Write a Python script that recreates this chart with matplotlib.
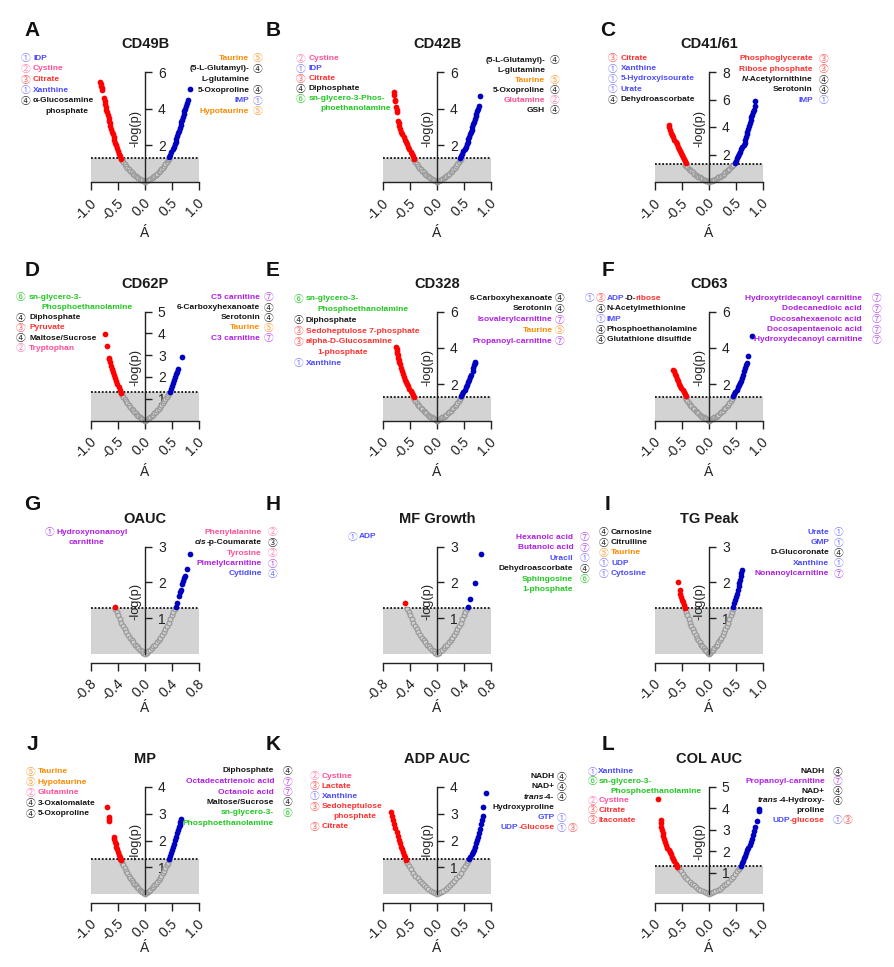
import matplotlib
matplotlib.use("Agg")
import matplotlib.pyplot as plt

plt.rcParams['font.family'] = ['Liberation Sans', 'Noto Sans CJK SC', 'DejaVu Sans']

# === data: (rho, -log p) for significant metabolites
red_A = [(-0.44, 1.23), (-0.46, 1.4), (-0.48, 1.55), (-0.50, 1.7), (-0.52, 1.85), (-0.54, 2.0), (-0.555, 2.15),
         (-0.57, 2.3), (-0.58, 2.45), (-0.595, 2.6), (-0.61, 2.75), (-0.625, 2.9), (-0.64, 3.05), (-0.65, 3.2),
         (-0.66, 3.35), (-0.675, 3.5), (-0.69, 3.65), (-0.70, 3.8), (-0.715, 3.95), (-0.725, 4.1), (-0.735, 4.25),
         (-0.745, 4.4), (-0.76, 4.6), (-0.79, 5.0), (-0.80, 5.12), (-0.81, 5.25), (-0.82, 5.37), (-0.83, 5.47)]
blue_A = [(0.45, 1.36), (0.47, 1.5), (0.49, 1.65), (0.51, 1.78), (0.53, 1.92), (0.55, 2.05), (0.565, 2.2),
          (0.58, 2.35), (0.595, 2.5), (0.61, 2.65), (0.63, 2.8), (0.65, 2.95), (0.66, 3.1), (0.675, 3.25),
          (0.69, 3.4), (0.70, 3.55), (0.715, 3.7), (0.73, 3.85), (0.745, 4.0), (0.76, 4.15), (0.775, 4.3),
          (0.80, 4.47), (0.83, 5.05)]
red_B = [(-0.43, 1.26), (-0.45, 1.4), (-0.47, 1.52), (-0.49, 1.64), (-0.52, 1.78), (-0.54, 1.92), (-0.56, 2.05),
         (-0.58, 2.18), (-0.60, 2.31), (-0.62, 2.45), (-0.64, 2.6), (-0.66, 2.75), (-0.68, 2.9), (-0.70, 3.05),
         (-0.71, 3.2), (-0.72, 3.35), (-0.74, 3.8), (-0.75, 3.95), (-0.76, 4.08), (-0.77, 4.4), (-0.78, 4.5),
         (-0.79, 4.75), (-0.80, 4.9)]
blue_B = [(0.43, 1.31), (0.45, 1.42), (0.47, 1.55), (0.49, 1.67), (0.51, 1.8), (0.53, 1.93), (0.55, 2.06),
          (0.565, 2.2), (0.58, 2.33), (0.595, 2.46), (0.61, 2.6), (0.625, 2.73), (0.64, 2.86), (0.655, 3.0),
          (0.67, 3.15), (0.685, 3.3), (0.70, 3.45), (0.715, 3.6), (0.73, 3.72), (0.745, 3.85), (0.76, 4.0),
          (0.77, 4.13), (0.80, 4.68)]
red_C = [(-0.42, 1.36), (-0.44, 1.5), (-0.46, 1.66), (-0.48, 1.82), (-0.50, 1.98), (-0.52, 2.13), (-0.54, 2.28),
         (-0.56, 2.43), (-0.58, 2.58), (-0.60, 2.73), (-0.62, 2.9), (-0.64, 3.07), (-0.66, 3.24), (-0.68, 3.42),
         (-0.70, 3.6), (-0.72, 3.8), (-0.74, 4.0), (-0.75, 4.16)]
blue_C = [(0.48, 1.41), (0.50, 1.56), (0.52, 1.72), (0.54, 1.88), (0.56, 2.04), (0.58, 2.2), (0.60, 2.37),
          (0.62, 2.54), (0.64, 2.7), (0.66, 2.86), (0.675, 3.06), (0.69, 3.26), (0.70, 3.46), (0.71, 3.66),
          (0.725, 3.87), (0.74, 4.1), (0.755, 4.3), (0.77, 4.5), (0.785, 4.7), (0.80, 4.9), (0.815, 5.08),
          (0.83, 5.27), (0.845, 5.5), (0.86, 5.9)]
red_D = [(-0.45, 1.24), (-0.47, 1.38), (-0.49, 1.52), (-0.51, 1.66), (-0.53, 1.8), (-0.55, 1.94), (-0.57, 2.08),
         (-0.59, 2.22), (-0.61, 2.37), (-0.63, 2.52), (-0.65, 2.68), (-0.66, 2.8), (-0.67, 2.88), (-0.71, 3.41),
         (-0.74, 3.97)]
blue_D = [(0.46, 1.31), (0.48, 1.44), (0.50, 1.58), (0.52, 1.72), (0.54, 1.86), (0.56, 2.0), (0.58, 2.12),
          (0.60, 2.24), (0.62, 2.36), (0.68, 2.93)]
red_E = [(-0.43, 1.3), (-0.45, 1.41), (-0.47, 1.52), (-0.49, 1.64), (-0.51, 1.76), (-0.53, 1.88), (-0.55, 2.0),
         (-0.57, 2.12), (-0.59, 2.25), (-0.61, 2.4), (-0.63, 2.56), (-0.65, 2.73), (-0.67, 2.91), (-0.69, 3.11),
         (-0.70, 3.22), (-0.71, 3.33), (-0.72, 3.46), (-0.73, 3.6), (-0.74, 3.72), (-0.745, 3.85), (-0.75, 3.95),
         (-0.755, 4.03)]
blue_E = [(0.45, 1.34), (0.47, 1.46), (0.49, 1.58), (0.51, 1.7), (0.53, 1.83), (0.55, 1.96), (0.57, 2.1),
          (0.59, 2.24), (0.61, 2.38), (0.63, 2.5), (0.66, 2.75), (0.675, 2.9), (0.69, 3.05), (0.70, 3.15),
          (0.71, 3.24)]
red_F = [(-0.43, 1.34), (-0.45, 1.45), (-0.47, 1.56), (-0.49, 1.67), (-0.51, 1.79), (-0.53, 1.91), (-0.55, 2.03),
         (-0.57, 2.16), (-0.59, 2.3), (-0.61, 2.44), (-0.63, 2.58), (-0.65, 2.7), (-0.67, 2.8)]
blue_F = [(0.45, 1.34), (0.47, 1.46), (0.49, 1.58), (0.51, 1.7), (0.53, 1.82), (0.55, 1.94), (0.57, 2.06),
          (0.59, 2.2), (0.61, 2.35), (0.63, 2.5), (0.65, 2.7), (0.67, 2.9), (0.685, 3.05), (0.70, 3.17),
          (0.73, 3.57), (0.80, 4.63)]
red_G = [(-0.44, 1.32)]
blue_G = [(0.46, 1.32), (0.48, 1.44), (0.50, 1.61), (0.52, 1.72), (0.53, 1.8), (0.55, 1.95), (0.57, 2.05),
          (0.58, 2.12), (0.59, 2.18), (0.62, 2.38), (0.67, 2.8)]
red_H = [(-0.48, 1.44)]
blue_H = [(0.46, 1.32), (0.49, 1.53), (0.56, 1.99), (0.65, 2.79)]
red_I = [(-0.45, 1.3), (-0.47, 1.38), (-0.48, 1.45), (-0.50, 1.52), (-0.52, 1.59), (-0.53, 1.68), (-0.54, 1.78),
         (-0.57, 2.0)]
blue_I = [(0.44, 1.31), (0.46, 1.42), (0.48, 1.52), (0.50, 1.6), (0.52, 1.68), (0.535, 1.8), (0.55, 1.9),
          (0.56, 1.98), (0.57, 2.06), (0.59, 2.18), (0.60, 2.26), (0.62, 2.35)]
red_J = [(-0.44, 1.27), (-0.455, 1.33), (-0.47, 1.4), (-0.485, 1.48), (-0.50, 1.58), (-0.515, 1.68), (-0.53, 1.78),
         (-0.545, 1.87), (-0.555, 1.96), (-0.565, 2.05), (-0.575, 2.14), (-0.66, 2.72), (-0.67, 2.82),
         (-0.675, 2.9), (-0.70, 3.24)]
blue_J = [(0.44, 1.33), (0.46, 1.44), (0.48, 1.55), (0.50, 1.66), (0.52, 1.77), (0.54, 1.89), (0.56, 2.01),
          (0.58, 2.14), (0.60, 2.27), (0.615, 2.39), (0.63, 2.5), (0.64, 2.6), (0.65, 2.7), (0.66, 2.79)]
red_K = [(-0.57, 1.28), (-0.59, 1.38), (-0.61, 1.48), (-0.63, 1.58), (-0.65, 1.68), (-0.67, 1.78), (-0.69, 1.9),
         (-0.71, 2.03), (-0.73, 2.17), (-0.75, 2.32), (-0.77, 2.48), (-0.79, 2.63), (-0.81, 2.78), (-0.83, 2.93),
         (-0.85, 3.06)]
blue_K = [(0.60, 1.3), (0.62, 1.4), (0.64, 1.49), (0.66, 1.58), (0.68, 1.67), (0.70, 1.78), (0.72, 1.9),
          (0.74, 2.03), (0.76, 2.15), (0.78, 2.28), (0.80, 2.45), (0.82, 2.62), (0.835, 2.77), (0.85, 2.91),
          (0.86, 3.26), (0.91, 3.76)]
red_L = [(-0.94, 4.43), (-0.89, 3.46), (-0.885, 3.3), (-0.88, 3.15), (-0.87, 3.0), (-0.86, 2.86), (-0.85, 2.73),
         (-0.83, 2.57), (-0.81, 2.43), (-0.79, 2.3), (-0.77, 2.18), (-0.75, 2.08), (-0.72, 1.96), (-0.70, 1.86),
         (-0.68, 1.75), (-0.66, 1.64), (-0.64, 1.53), (-0.62, 1.42), (-0.60, 1.32), (-0.59, 1.27)]
blue_L = [(0.59, 1.34), (0.61, 1.45), (0.63, 1.56), (0.65, 1.67), (0.67, 1.79), (0.69, 1.92), (0.71, 2.05),
          (0.73, 2.18), (0.75, 2.3), (0.77, 2.43), (0.79, 2.58), (0.81, 2.75), (0.83, 2.93), (0.85, 3.12),
          (0.88, 3.43), (0.92, 3.9), (0.93, 3.97)]

# non-significant points (same V in panels A-J, wider V in K-L)
gray_small_x = [-0.44, -0.42, -0.40, -0.375, -0.35, -0.325, -0.30, -0.275, -0.25, -0.225, -0.20, -0.175, -0.15,
                -0.125, -0.10, -0.075, -0.05, -0.025, 0.0, 0.025, 0.05, 0.075, 0.10, 0.125, 0.15, 0.175, 0.20,
                0.225, 0.25, 0.275, 0.30, 0.325, 0.35, 0.375, 0.40, 0.42, 0.44]
gray_small_y = [1.27, 1.18, 1.09, 0.98, 0.88, 0.78, 0.70, 0.61, 0.53, 0.46, 0.40, 0.33, 0.27, 0.22, 0.17, 0.13,
                0.085, 0.04, 0.0, 0.04, 0.085, 0.13, 0.17, 0.22, 0.27, 0.33, 0.40, 0.46, 0.53, 0.61, 0.70, 0.78,
                0.88, 0.98, 1.09, 1.18, 1.27]
gray_wide_x = [-0.57, -0.55, -0.52, -0.48, -0.44, -0.40, -0.36, -0.32, -0.28, -0.24, -0.20, -0.16, -0.12, -0.08,
               -0.04, 0.0, 0.04, 0.08, 0.12, 0.16, 0.20, 0.24, 0.28, 0.32, 0.36, 0.40, 0.44, 0.48, 0.52, 0.55, 0.57]
gray_wide_y = [1.26, 1.18, 1.07, 0.94, 0.81, 0.70, 0.59, 0.50, 0.42, 0.34, 0.27, 0.20, 0.14, 0.09, 0.04, 0.0,
               0.04, 0.09, 0.14, 0.20, 0.27, 0.34, 0.42, 0.50, 0.59, 0.70, 0.81, 0.94, 1.07, 1.18, 1.26]

titles = ["CD49B", "CD42B", "CD41/61", "CD62P", "CD328", "CD63",
          "OAUC", "MF Growth", "TG Peak", "MP", "ADP AUC", "COL AUC"]
letters = list("ABCDEFGHIJKL")
y_max = [6, 6, 8, 5, 6, 6, 3, 3, 3, 4, 4, 5]
y_ticks = [[2, 4, 6], [2, 4, 6], [2, 4, 6, 8], [1, 2, 3, 4, 5], [2, 4, 6], [2, 4, 6],
           [1, 2, 3], [1, 2, 3], [1, 2, 3], [1, 2, 3, 4], [1, 2, 3, 4], [1, 2, 3, 4, 5]]
x_range = [1.0, 1.0, 1.0, 1.0, 1.0, 1.0, 0.8, 0.8, 1.0, 1.0, 1.0, 1.0]
x_ticks_1 = [-1.0, -0.5, 0.0, 0.5, 1.0]
x_ticks_08 = [-0.8, -0.4, 0.0, 0.4, 0.8]
reds = [red_A, red_B, red_C, red_D, red_E, red_F, red_G, red_H, red_I, red_J, red_K, red_L]
blues = [blue_A, blue_B, blue_C, blue_D, blue_E, blue_F, blue_G, blue_H, blue_I, blue_J, blue_K, blue_L]
threshold = 1.3

# === metabolite labels: (class marks, text, colour code) or (marks, [(text, code[, 'i'])...])
left_A = [("1b", "IDP", "b"), ("2p", "Cystine", "p"), ("3r", "Citrate", "r"), ("1b", "Xanthine", "b"),
          ("4k", "α-Glucosamine", "k"), ("", "phosphate", "k")]
right_A = [("5o", "Taurine", "o"), ("4k", "(5-L-Glutamyl)-", "k"), ("", "L-glutamine", "k"),
           ("4k", "5-Oxoproline", "k"), ("1b", "IMP", "b"), ("5o", "Hypotaurine", "o")]
left_B = [("2p", "Cystine", "p"), ("1b", "IDP", "b"), ("3r", "Citrate", "r"), ("4k", "Diphosphate", "k"),
          ("6g", "sn-glycero-3-Phos-", "g"), ("", "phoethanolamine", "g")]
right_B = [("4k", "(5-L-Glutamyl)-", "k"), ("", "L-glutamine", "k"), ("5o", "Taurine", "o"),
           ("4k", "5-Oxoproline", "k"), ("2p", "Glutamine", "p"), ("4k", "GSH", "k")]
left_C = [("3r", "Citrate", "r"), ("1b", "Xanthine", "b"), ("1b", "5-Hydroxyisourate", "b"), ("1b", "Urate", "b"),
          ("4k", "Dehydroascorbate", "k")]
right_C = [("3r", "Phosphoglycerate", "r"), ("3r", "Ribose phosphate", "r"),
           ("4k", [("N", "k", "i"), ("-Acetylornithine", "k")]), ("4k", "Serotonin", "k"), ("1b", "IMP", "b")]
left_D = [("6g", "sn-glycero-3-", "g"), ("", "Phosphoethanolamine", "g"), ("4k", "Diphosphate", "k"),
          ("3r", "Pyruvate", "r"), ("4k", "Maltose/Sucrose", "k"), ("2p", "Tryptophan", "p")]
right_D = [("7m", "C5 carnitine", "m"), ("4k", "6-Carboxyhexanoate", "k"), ("4k", "Serotonin", "k"),
           ("5o", "Taurine", "o"), ("7m", "C3 carnitine", "m")]
left_E = [("6g", "sn-glycero-3-", "g"), ("", "Phosphoethanolamine", "g"), ("4k", "Diphosphate", "k"),
          ("3r", "Sedoheptulose 7-phosphate", "r"), ("3r", "alpha-D-Glucosamine", "r"), ("", "1-phosphate", "r"),
          ("1b", "Xanthine", "b")]
right_E = [("4k", "6-Carboxyhexanoate", "k"), ("4k", "Serotonin", "k"), ("7m", "Isovalerylcarnitine", "m"),
           ("5o", "Taurine", "o"), ("7m", "Propanoyl-carnitine", "m")]
left_F = [("1b3r", [("ADP", "b"), ("-D-", "k"), ("ribose", "r")]), ("4k", "N-Acetylmethionine", "k"),
          ("1b", "IMP", "b"), ("4k", "Phosphoethanolamine", "k"), ("4k", "Glutathione disulfide", "k")]
right_F = [("7m", "Hydroxytridecanoyl carnitine", "m"), ("7m", "Dodecanedioic acid", "m"),
           ("7m", "Docosahexaenoic acid", "m"), ("7m", "Docosapentaenoic acid", "m"),
           ("7m", "Hydroxydecanoyl carnitine", "m")]
left_G = [("1m", "Hydroxynonanoyl", "m"), ("", "carnitine", "m")]
right_G = [("2p", "Phenylalanine", "p"), ("3k", [("cis", "k", "i"), ("-p-Coumarate", "k")]),
           ("2p", "Tyrosine", "p"), ("1m", "Pimelylcarnitine", "m"), ("4b", "Cytidine", "b")]
left_H = [("1b", "ADP", "b")]
right_H = [("7m", "Hexanoic acid", "m"), ("7m", "Butanoic acid", "m"), ("1b", "Uracil", "b"),
           ("4k", "Dehydroascorbate", "k"), ("6g", "Sphingosine", "g"), ("", "1-phosphate", "g")]
left_I = [("4k", "Carnosine", "k"), ("4k", "Citrulline", "k"), ("5o", "Taurine", "o"), ("1b", "UDP", "b"),
          ("1b", "Cytosine", "b")]
right_I = [("1b", "Urate", "b"), ("1b", "GMP", "b"), ("4k", "D-Glucoronate", "k"), ("1b", "Xanthine", "b"),
           ("7m", "Nonanoylcarnitine", "m")]
left_J = [("5o", "Taurine", "o"), ("5o", "Hypotaurine", "o"), ("2p", "Glutamine", "p"),
          ("4k", "3-Oxalomalate", "k"), ("4k", "5-Oxoproline", "k")]
right_J = [("4k", "Diphosphate", "k"), ("7m", "Octadecatrienoic acid", "m"), ("7m", "Octanoic acid", "m"),
           ("4k", "Maltose/Sucrose", "k"), ("6g", "sn-glycero-3-", "g"), ("", "Phosphoethanolamine", "g")]
left_K = [("2p", "Cystine", "p"), ("3r", "Lactate", "r"), ("1b", "Xanthine", "b"), ("3r", "Sedoheptulose", "r"),
          ("", "phosphate", "r"), ("3r", "Citrate", "r")]
right_K = [("4k", "NADH", "k"), ("4k", "NAD+", "k"), ("4k", [("trans", "k", "i"), ("-4-", "k")]),
           ("", "Hydroxyproline", "k"), ("1b", "GTP", "b"), ("1b3r", [("UDP", "b"), ("-Glucose", "r")])]
left_L = [("1b", "Xanthine", "b"), ("6g", "sn-glycero-3-", "g"), ("", "Phosphoethanolamine", "g"),
          ("2p", "Cystine", "p"), ("3r", "Citrate", "r"), ("3r", "Itaconate", "r")]
right_L = [("4k", "NADH", "k"), ("7m", "Propanoyl-carnitine", "m"), ("4k", "NAD+", "k"),
           ("4k", [("trans", "k", "i"), ("-4-Hydroxy-", "k")]), ("", "proline", "k"),
           ("1b3r", [("UDP", "b"), ("-glucose", "r")])]
lefts = [left_A, left_B, left_C, left_D, left_E, left_F, left_G, left_H, left_I, left_J, left_K, left_L]
rights = [right_A, right_B, right_C, right_D, right_E, right_F, right_G, right_H, right_I, right_J, right_K,
          right_L]

INK = {'b': '#4b4bff', 'p': '#ff4f96', 'r': '#ff3030', 'o': '#ff8a00', 'g': '#1ec81e', 'm': '#b01ee6',
       'k': '#141414'}
RING = {'b': '#8080ff', 'p': '#ff86b6', 'r': '#ff6262', 'o': '#ff9f3a', 'g': '#34cc34', 'm': '#bb55ee',
        'k': '#303030'}
CIRC = {n: chr(0x245F + n) for n in range(1, 8)}

# === layout in pixels
W, H = 894, 967
col_left = [91, 383, 655]
row_top = [72, 311.5, 546.5, 787]
row_bot = [182, 420.5, 662.7, 902.7]
AX_W = 108
letter_x = [32, 273, 608]
letter_y = [30.7, 270.7, 505, 745]
xlab_y = [233, 472, 708, 948]
# (left circle x, left text x, left first y, right text end, right circle x, right first y, line step)
blocks = [(26, 33, 58.3, 249.3, 257.7, 58.3, 10.6), (301, 308.3, 59, 545, 554.3, 60.3, 10.0),
          (612.7, 620.7, 58.3, 812.7, 823.3, 59, 10.3), (21, 29, 297.3, 260, 268.3, 297.3, 10.2),
          (299, 305.7, 299, 552.7, 560, 298.3, 10.7), (600.7, 606.7, 298.3, 862, 876.7, 298.3, 10.4),
          (50, 56.7, 532.3, 261.7, 272.7, 532.3, 10.4), (352.3, 358.3, 536.7, 573.3, 584.3, 537.3, 10.5),
          (603.3, 611, 532.3, 829.3, 838.3, 532.3, 10.3), (31, 37.7, 771.7, 274, 287.3, 771, 10.5),
          (315, 321.7, 776, 554.3, 561.7, 776.7, 10.2), (592.7, 598.3, 771.7, 825, 837.3, 771.7, 9.7)]

fig = plt.figure(figsize=(W / 100, H / 100), dpi=100)

for i in range(12):
    r, c = divmod(i, 3)
    top, bot = row_top[r], row_bot[r]
    ax = fig.add_axes([col_left[c] / W, 1 - bot / H, AX_W / W, (bot - top) / H])
    ym = y_max[i]
    xr = x_range[i]
    ybot = 0 if r < 2 else -0.078 * ym
    ax.set_xlim(-xr, xr)
    ax.set_ylim(ybot, ym)

    ax.fill_between([-xr, xr], 0, threshold, color='#d3d3d3', lw=0, zorder=0)
    ax.plot([-xr, xr], [threshold, threshold], color='#111111', ls=(0, (1, 1)), lw=1.3, zorder=1)

    if i < 10:
        gx, gy = gray_small_x, gray_small_y
    else:
        gx, gy = gray_wide_x, gray_wide_y
    ax.scatter(gx, gy, s=12, facecolor='#cfcfcf', edgecolor='#979797', lw=0.8, zorder=2, clip_on=False)
    rx, ry = zip(*reds[i])
    bx, by = zip(*blues[i])
    ax.scatter(rx, ry, s=17, color='#ff0000', lw=0, zorder=3, clip_on=False)
    ax.scatter(bx, by, s=17, color='#0000c0', lw=0, zorder=3, clip_on=False)

    for s in ['top', 'left']:
        ax.spines[s].set_visible(False)
    ax.spines['right'].set_position(('data', 0))
    ax.spines['right'].set_bounds(0, ym)
    ax.spines['bottom'].set_bounds(-xr, xr)
    for s in ['right', 'bottom']:
        ax.spines[s].set_linewidth(1.0)
        ax.spines[s].set_color('#222222')
    ax.spines['right'].set_zorder(4)
    ax.patch.set_visible(False)

    ax.yaxis.set_ticks_position('right')
    ax.set_yticks(y_ticks[i])
    ax.set_yticklabels([str(t) for t in y_ticks[i]])
    ax.tick_params(axis='y', direction='out', length=5.3, width=1.0, pad=4, labelsize=10, colors='#222222')

    xt = x_ticks_1 if xr == 1.0 else x_ticks_08
    ax.set_xticks(xt)
    ax.tick_params(axis='x', direction='out', length=5.5, width=1.0, labelbottom=False, colors='#222222')
    for t in xt:
        ax.annotate(f"{t:.1f}", xy=(t, 0), xycoords=('data', 'axes fraction'), xytext=(2.2, -13.7),
                    textcoords='offset points', rotation=45, rotation_mode='anchor',
                    ha='right', va='center', fontsize=10, color='#222222')

    ax.annotate('-log(p)', xy=(0, 0.49 * ym), xytext=(-7.2, 0), textcoords='offset points',
                rotation=90, ha='center', va='center', fontsize=9.2, color='#222222', zorder=5)
    ax.set_title(titles[i], fontsize=10.5, fontweight='bold', pad=17, color='#1a1a1a')

# overlay in pixel coordinates for letters, x labels and metabolite lists
ov = fig.add_axes([0, 0, 1, 1], zorder=10)
ov.set_xlim(0, W)
ov.set_ylim(H, 0)
ov.axis('off')


def parts_of(line):
    if isinstance(line[1], str):
        return [(line[1], line[2])]
    return line[1]


def marks_of(line):
    m = line[0]
    return [(int(m[k]), m[k + 1]) for k in range(0, len(m), 2)]


def text_kw(seg):
    return dict(color=INK[seg[1]], fontsize=6.0, fontweight='bold', va='center',
                fontstyle='italic' if len(seg) > 2 else 'normal')


def ring(x, y, n, code):
    ov.text(x, y, CIRC[n], color=RING[code], ha='center', va='center', fontsize=7,
            family=['Noto Sans CJK SC', 'DejaVu Sans'])


for i in range(12):
    r, c = divmod(i, 3)
    lcx, ltx, ly0, rtx, rcx, ry0, step = blocks[i]
    ov.text(letter_x[c], letter_y[r], letters[i], fontsize=15, fontweight='bold', ha='center', va='center',
            color='#111111')
    ov.text(col_left[c] + AX_W / 2, xlab_y[r], 'Á', fontsize=10, ha='center', va='center', color='#222222')

    for j, line in enumerate(lefts[i]):
        y = ly0 + j * step
        marks = marks_of(line)
        for k, (n, code) in enumerate(reversed(marks)):
            ring(lcx - k * 10.7, y, n, code)
        prev = None
        for seg in parts_of(line):
            if prev is None:
                prev = ov.text(ltx if marks else ltx + 12, y, seg[0], ha='left', **text_kw(seg))
            else:
                prev = ov.annotate(seg[0], xy=(1, 0.5), xycoords=prev, ha='left', **text_kw(seg))

    for j, line in enumerate(rights[i]):
        y = ry0 + j * step
        for k, (n, code) in enumerate(marks_of(line)):
            ring(rcx + k * 10.5, y, n, code)
        prev = None
        for seg in reversed(parts_of(line)):
            if prev is None:
                prev = ov.text(rtx, y, seg[0], ha='right', **text_kw(seg))
            else:
                prev = ov.annotate(seg[0], xy=(0, 0.5), xycoords=prev, ha='right', **text_kw(seg))

fig.savefig("out.png", dpi=100)
